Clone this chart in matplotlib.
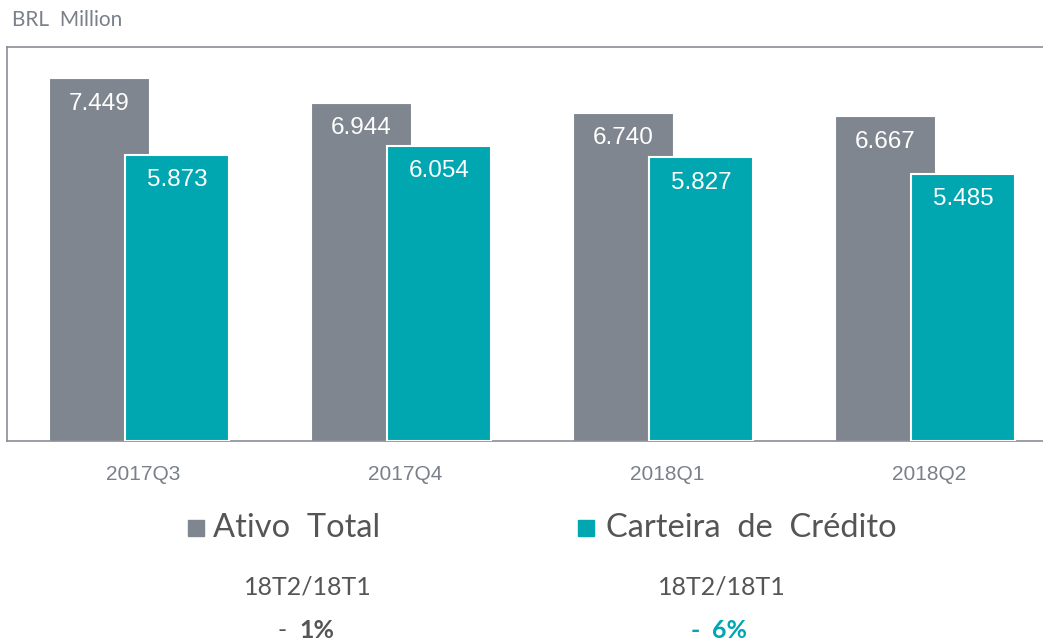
import numpy as np
import matplotlib
matplotlib.use('Agg')
import matplotlib.pyplot as plt
from matplotlib.patches import Rectangle

# data
quarters = ['2017Q3', '2017Q4', '2018Q1', '2018Q2']
ativo_total = [7.449, 6.944, 6.740, 6.667]
carteira = [5.873, 6.054, 5.827, 5.485]
labels_ativo = ['7.449', '6.944', '6.740', '6.667']
labels_cart = ['5.873', '6.054', '5.827', '5.485']
series_names = ['Ativo  Total', 'Carteira  de  Crédito']
var_label = '18T2/18T1'
var_ativo = '1%'
var_cart = '6%'

gray = '#80868F'
teal = '#00A6B0'
txt = '#555555'
lfont = 'Lato'

W, H = 1043, 643
fig = plt.figure(figsize=(W / 100, H / 100), dpi=100)
ax = fig.add_axes([7 / W, 1 - 441 / H, 1 - 7 / W, (441 - 47) / H])

x = np.arange(len(quarters))
ax.bar(x - 0.167, ativo_total, width=0.382, color=gray, edgecolor='white', linewidth=0.8, zorder=2)
ax.bar(x + 0.130, carteira, width=0.397, color=teal, edgecolor='white', linewidth=1.5, zorder=3)

for i in range(len(quarters)):
    ax.text(x[i] - 0.167, ativo_total[i] - 0.52, labels_ativo[i], ha='center', va='center',
            color='white', fontsize=17.5, family='Liberation Sans', zorder=4)
    ax.text(x[i] + 0.130, carteira[i] - 0.52, labels_cart[i], ha='center', va='center',
            color='white', fontsize=17.5, family='Liberation Sans', zorder=4)

ax.set_xlim(-0.519, 3.435)
ax.set_ylim(0, 8.09)
ax.set_xticks([])
ax.set_yticks([])
for s in ['left', 'top', 'bottom']:
    ax.spines[s].set_color('#8a8f96')
    ax.spines[s].set_linewidth(1.2)
ax.spines['right'].set_visible(False)

# category labels
for i, q in enumerate(quarters):
    ax.text(x[i], -0.68, q, ha='center', va='center', color='#7a8089',
            fontsize=15, family='Liberation Sans', clip_on=False)

fig.text(12 / W, 1 - 20 / H, 'BRL  Million', ha='left', va='center', color='#7a8089',
         fontsize=15, family=lfont)

# legend
fig.patches.append(Rectangle((188 / W, 1 - 536 / H), 16 / W, 16 / H, transform=fig.transFigure,
                             color=gray))
fig.text(213 / W, 1 - 528 / H, series_names[0], ha='left', va='center', color=txt,
         fontsize=23.5, family=lfont)
fig.patches.append(Rectangle((578 / W, 1 - 536 / H), 16 / W, 16 / H, transform=fig.transFigure,
                             color=teal))
fig.text(606 / W, 1 - 528 / H, series_names[1], ha='left', va='center', color=txt,
         fontsize=23.5, family=lfont)

fig.text(308 / W, 1 - 587 / H, var_label, ha='center', va='center', color=txt, fontsize=18, family=lfont)
fig.text(722 / W, 1 - 587 / H, var_label, ha='center', va='center', color=txt, fontsize=18, family=lfont)

fig.text(293 / W, 1 - 630 / H, '- ', ha='right', va='center', color=txt, fontsize=18, family=lfont)
fig.text(299 / W, 1 - 630 / H, var_ativo, ha='left', va='center', color=txt, fontsize=18,
         family=lfont, weight='bold')
fig.text(706 / W, 1 - 630 / H, '- ', ha='right', va='center', color=teal, fontsize=18,
         family=lfont, weight='bold')
fig.text(712 / W, 1 - 630 / H, var_cart, ha='left', va='center', color=teal, fontsize=18,
         family=lfont, weight='bold')

fig.savefig('out.png', dpi=100)
